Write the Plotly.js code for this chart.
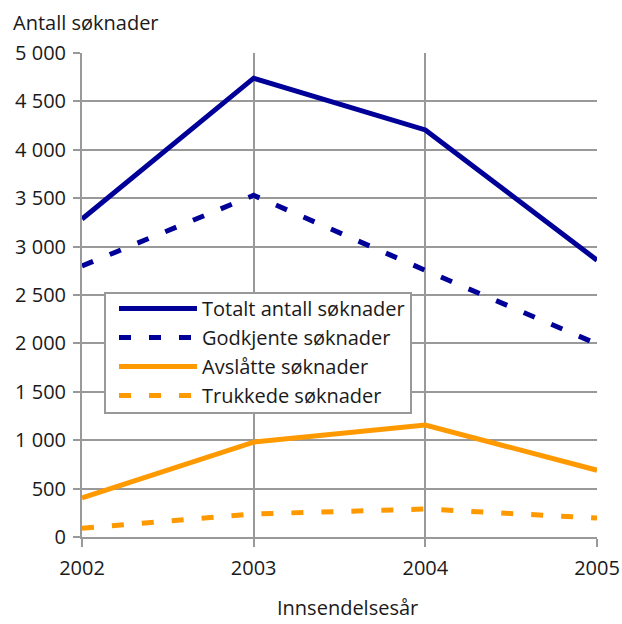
<!DOCTYPE html>
<html>
<head>
<meta charset="utf-8">
<script src="https://cdn.plot.ly/plotly-3.0.1.min.js"></script>
<style>html,body{margin:0;padding:0;background:#fff;}#chart{width:622px;height:624px;}</style>
</head>
<body>
<div id="chart"></div>
<script>
var years = [2002, 2003, 2004, 2005];
var totalt = [3285, 4740, 4205, 2860];
var godkjente = [2800, 3530, 2755, 1995];
var avslatte = [403, 980, 1157, 690];
var trukkede = [90, 238, 289, 196];
var seriesNames = ["Totalt antall søknader", "Godkjente søknader", "Avslåtte søknader", "Trukkede søknader"];
var yTickVals = [0, 500, 1000, 1500, 2000, 2500, 3000, 3500, 4000, 4500, 5000];
var xTitle = "Innsendelsesår";
var yTitle = "Antall søknader";

var blue = "#000099", orange = "#FF9900";
var dash = "12px,18px";
function tr(y, name, color, d) {
  return {x: years, y: y, name: name, type: "scatter", mode: "lines",
    line: {color: color, width: 5, dash: d}, hoverinfo: "x+y"};
}
var data = [
  tr(totalt, seriesNames[0], blue, "solid"),
  tr(godkjente, seriesNames[1], blue, dash),
  tr(avslatte, seriesNames[2], orange, "solid"),
  tr(trukkede, seriesNames[3], orange, dash)
];
var font = {family: "Open Sans, Noto Sans, sans-serif", size: 20, color: "#1a1a1a"};
var layout = {
  width: 622, height: 624,
  margin: {l: 82, r: 25, t: 53, b: 87},
  paper_bgcolor: "#fff", plot_bgcolor: "#fff",
  font: font,
  separators: ", ",
  showlegend: true,
  legend: {x: 0.0427, y: 0.506, xanchor: "left", yanchor: "top",
    bordercolor: "#999", borderwidth: 2, bgcolor: "#fff",
    font: font, itemwidth: 86, tracegroupgap: 0},
  xaxis: {range: [2002, 2005], tickvals: years, ticktext: years.map(String),
    showgrid: true, gridcolor: "#999", gridwidth: 2,
    ticks: "outside", ticklen: 8, tickwidth: 2, tickcolor: "#999",
    showline: true, linecolor: "#999", linewidth: 2, zeroline: false,
    tickfont: font, fixedrange: true, ticklabelstandoff: 4},
  yaxis: {range: [0, 5000], tickvals: yTickVals, tickformat: ",d",
    showgrid: true, gridcolor: "#999", gridwidth: 2,
    ticks: "outside", ticklen: 7, tickwidth: 2, tickcolor: "#999",
    showline: true, linecolor: "#999", linewidth: 2, zeroline: false,
    tickfont: font, fixedrange: true, ticklabelstandoff: 3},
  annotations: [
    {text: yTitle, xref: "paper", yref: "paper",
      x: -0.137, y: 1.03, xanchor: "left", yanchor: "bottom", showarrow: false, font: font},
    {text: xTitle, xref: "paper", yref: "paper", borderpad: 0,
      x: 0.5165, y: -0.176, xanchor: "center", yanchor: "bottom", showarrow: false, font: font}
  ]
};
Plotly.newPlot("chart", data, layout, {displayModeBar: false, staticPlot: true}).then(function(gd){
  var paths = gd.querySelectorAll(".legend .legendlines path");
  paths.forEach(function(p){ p.setAttribute("d", "M13,0h78"); });
  var sb = gd.querySelector(".legend .scrollbox");
  if (sb) sb.setAttribute("transform", "translate(0,-5)");
  var bg = gd.querySelector(".legend .bg");
  if (bg) bg.setAttribute("height", "120");
});
</script>
</body>
</html>
